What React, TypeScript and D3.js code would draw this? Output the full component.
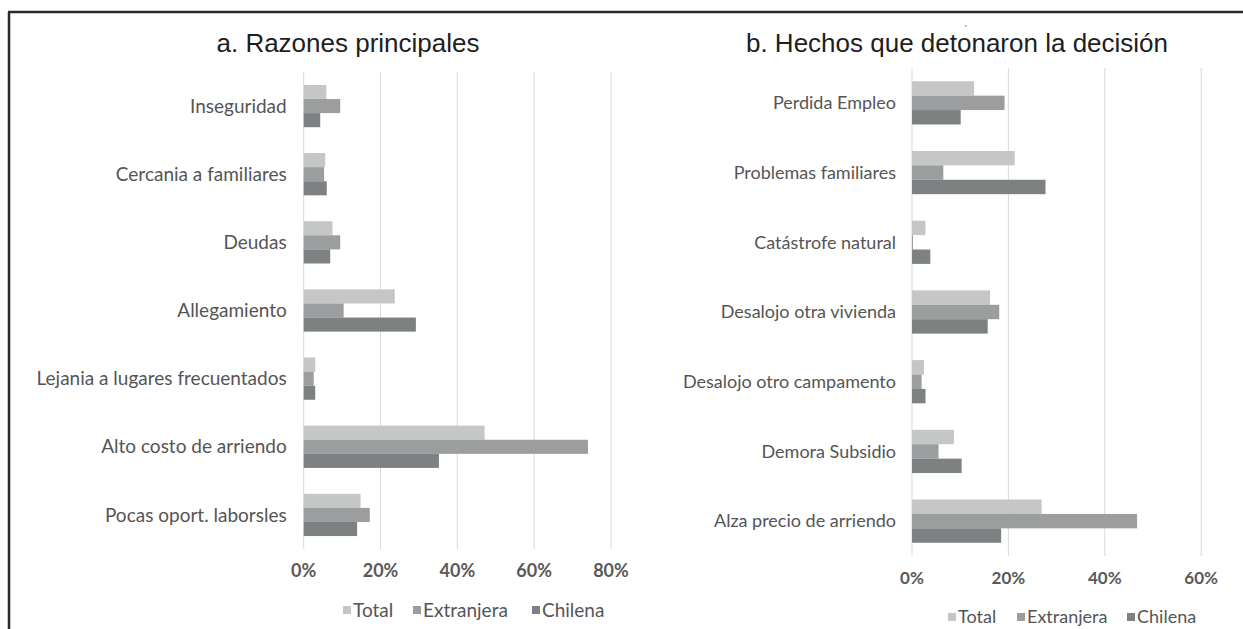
import { useRef, useEffect } from 'react'
import * as d3 from 'd3'

const series = ['Total', 'Extranjera', 'Chilena']
const colors = ['#c5c6c6', '#9b9d9e', '#7d8182']

const razones = [
  'Inseguridad',
  'Cercania a familiares',
  'Deudas',
  'Allegamiento',
  'Lejania a lugares frecuentados',
  'Alto costo de arriendo',
  'Pocas oport. laborsles',
]
const razonesTotal = [5.9, 5.6, 7.5, 23.7, 3.0, 47.1, 14.8]
const razonesExtranjera = [9.5, 5.3, 9.5, 10.4, 2.6, 74.0, 17.2]
const razonesChilena = [4.3, 6.0, 6.9, 29.2, 3.0, 35.2, 13.9]
const razonesTicks = [0, 20, 40, 60, 80]

const hechos = [
  'Perdida Empleo',
  'Problemas familiares',
  'Catástrofe natural',
  'Desalojo otra vivienda',
  'Desalojo otro campamento',
  'Demora Subsidio',
  'Alza precio de arriendo',
]
const hechosTotal = [12.9, 21.3, 2.8, 16.2, 2.5, 8.7, 26.9]
const hechosExtranjera = [19.2, 6.5, 0.2, 18.1, 2.0, 5.5, 46.7]
const hechosChilena = [10.1, 27.7, 3.8, 15.7, 2.8, 10.3, 18.5]
const hechosTicks = [0, 20, 40, 60]

const LABEL_FONT = 'Lato, "Open Sans", sans-serif'

function drawPanel(svg, cfg) {
  const g = svg.append('g')
  const x = d3.scaleLinear().domain([0, cfg.max]).range([cfg.x0, cfg.x1])
  const y = d3.scaleBand().domain(cfg.cats).range([cfg.top, cfg.bottom]).paddingInner(0.38).paddingOuter(0.19)
  const ySub = d3.scaleBand().domain(series).range([0, y.bandwidth()])

  g.append('text')
    .text(cfg.title)
    .attr('x', cfg.titleX)
    .attr('y', cfg.titleY)
    .attr('text-anchor', 'middle')
    .style('font-family', '"Liberation Sans", Arial, sans-serif')
    .style('font-size', '26px')
    .style('fill', '#1e1e1e')

  g.selectAll('line.grid')
    .data(cfg.ticks)
    .join('line')
    .attr('class', 'grid')
    .attr('x1', (d) => x(d))
    .attr('x2', (d) => x(d))
    .attr('y1', cfg.top)
    .attr('y2', cfg.bottom)
    .style('stroke', '#d9d9d9')
    .style('stroke-width', 1)

  const rows = cfg.cats.map((c, i) => ({ cat: c, vals: [cfg.total[i], cfg.ext[i], cfg.chi[i]] }))
  const rowG = g
    .selectAll('g.row')
    .data(rows)
    .join('g')
    .attr('transform', (d) => `translate(0, ${y(d.cat)})`)
  rowG
    .selectAll('rect')
    .data((d) => d.vals.map((v, i) => ({ v, s: series[i], i })))
    .join('rect')
    .attr('x', x(0))
    .attr('y', (d) => ySub(d.s))
    .attr('width', (d) => x(d.v) - x(0))
    .attr('height', ySub.bandwidth())
    .style('fill', (d) => colors[d.i])

  g.selectAll('text.cat')
    .data(cfg.cats)
    .join('text')
    .attr('class', 'cat')
    .text((d) => d)
    .attr('x', x(0) - cfg.labelGap)
    .attr('y', (d) => y(d) + y.bandwidth() / 2)
    .attr('dy', '0.35em')
    .attr('text-anchor', 'end')
    .style('font-family', LABEL_FONT)
    .style('font-size', cfg.fontSize + 'px')
    .style('fill', '#555')

  g.selectAll('text.tick')
    .data(cfg.ticks)
    .join('text')
    .attr('class', 'tick')
    .text((d) => d + '%')
    .attr('x', (d) => x(d))
    .attr('y', cfg.tickY)
    .attr('dy', '0.35em')
    .attr('text-anchor', 'middle')
    .style('font-family', LABEL_FONT)
    .style('font-weight', 'bold')
    .style('font-size', cfg.fontSize - 1 + 'px')
    .style('fill', '#595959')

  const leg = g
    .selectAll('g.leg')
    .data(series)
    .join('g')
    .attr('transform', (d, i) => `translate(${cfg.legendX[i]}, ${cfg.legendY})`)
  leg
    .append('rect')
    .attr('x', 0)
    .attr('y', -4)
    .attr('width', 8)
    .attr('height', 8)
    .style('fill', (d, i) => colors[i])
  leg
    .append('text')
    .text((d) => d)
    .attr('x', 10)
    .attr('y', 0)
    .attr('dy', '0.35em')
    .style('font-family', LABEL_FONT)
    .style('font-size', cfg.fontSize + 'px')
    .style('fill', '#555')
}

const App = () => {
  const svgRef = useRef(null)

  useEffect(() => {
    const svg = d3.select(svgRef.current)
    svg.selectAll('*').remove()

    svg.append('rect').attr('width', 1243).attr('height', 629).style('fill', '#fff')
    svg.append('line').attr('x1', 8).attr('x2', 1243).attr('y1', 12).attr('y2', 12).style('stroke', '#2a2a2a').style('stroke-width', 2.5)
    svg.append('line').attr('x1', 9).attr('x2', 9).attr('y1', 12).attr('y2', 629).style('stroke', '#2a2a2a').style('stroke-width', 2.5)
    svg.append('circle').attr('cx', 966).attr('cy', 26).attr('r', 0.8).style('fill', '#777')

    drawPanel(svg, {
      title: 'a. Razones principales',
      titleX: 348,
      titleY: 52,
      cats: razones,
      total: razonesTotal,
      ext: razonesExtranjera,
      chi: razonesChilena,
      ticks: razonesTicks,
      max: 80,
      x0: 303.7,
      x1: 611,
      top: 72,
      bottom: 549,
      labelGap: 17,
      fontSize: 19,
      tickY: 571,
      legendX: [343, 413, 532],
      legendY: 610,
    })

    drawPanel(svg, {
      title: 'b. Hechos que detonaron la decisión',
      titleX: 957,
      titleY: 52,
      cats: hechos,
      total: hechosTotal,
      ext: hechosExtranjera,
      chi: hechosChilena,
      ticks: hechosTicks,
      max: 60,
      x0: 912,
      x1: 1201.2,
      top: 68,
      bottom: 556,
      labelGap: 16,
      fontSize: 18,
      tickY: 578,
      legendX: [948, 1017, 1127],
      legendY: 617,
    })
  }, [])

  return (
    <svg
      ref={svgRef}
      width={1243}
      height={629}
      style={{ position: 'absolute', left: 0, top: 0, display: 'block' }}
    ></svg>
  )
}

export default App
